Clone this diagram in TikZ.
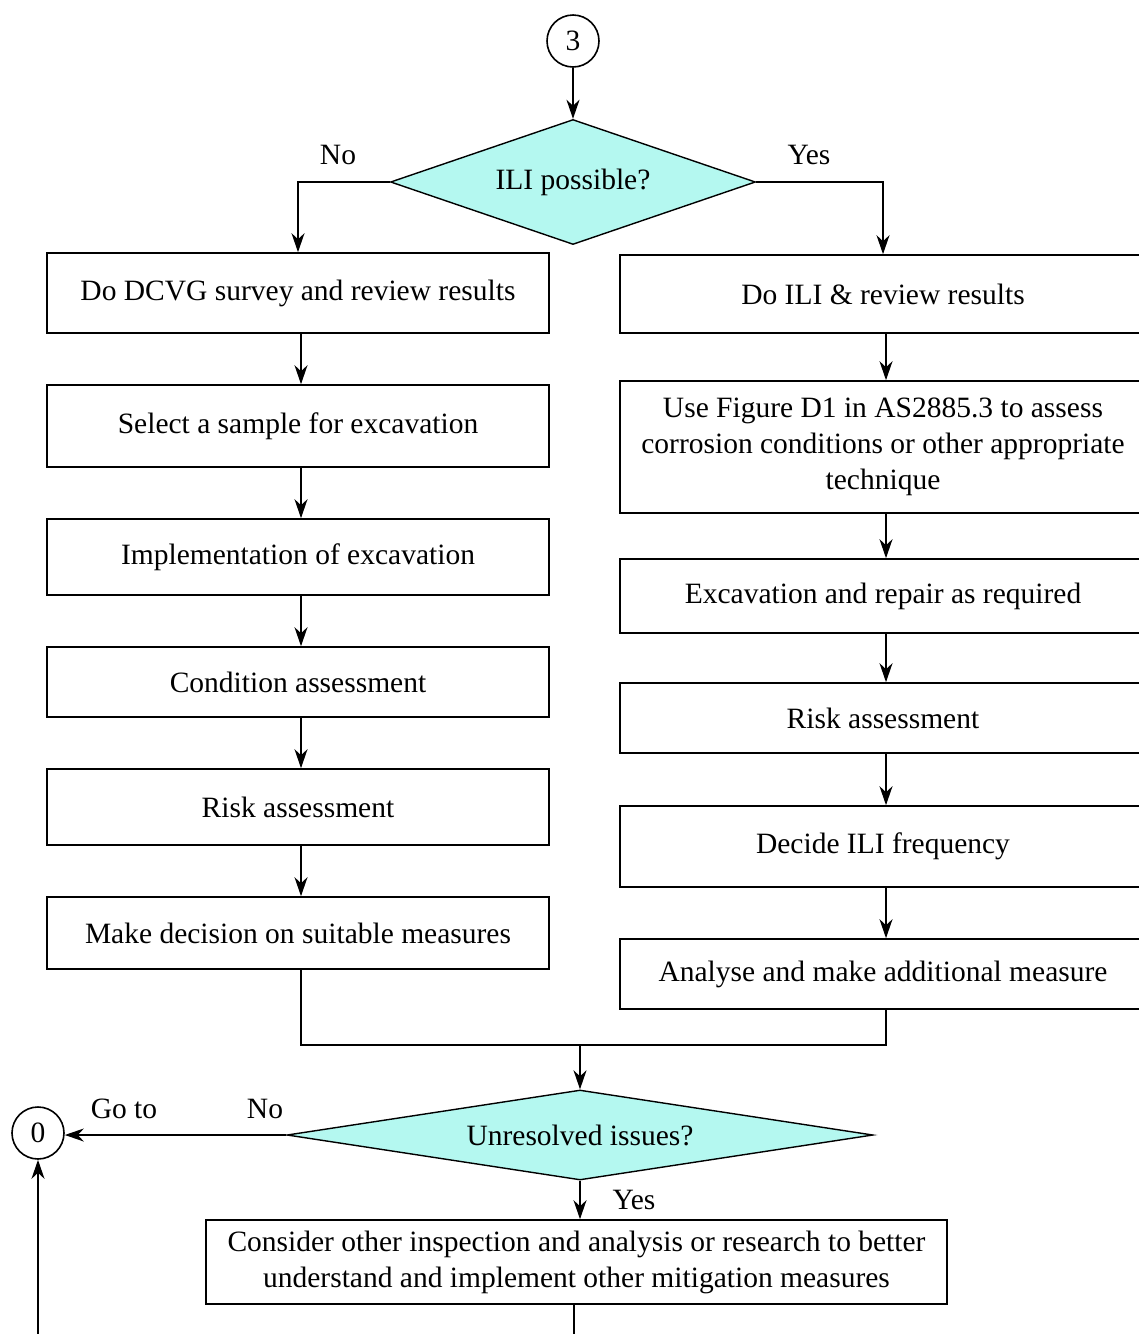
\documentclass[tikz,border=0pt]{standalone}
\usepackage{fontspec}
\setmainfont{Liberation Serif}
\usetikzlibrary{shapes.geometric,arrows.meta}
\definecolor{decfill}{RGB}{180,248,240}
\begin{document}
\begin{tikzpicture}[x=1pt,y=-1pt,
  every node/.style={font=\fontsize{29.5}{36}\selectfont},
  box/.style={draw,line width=1.6pt,inner sep=0pt,align=center},
  lbox/.style={box,minimum width=502pt},
  rbox/.style={box,minimum width=526pt},
  decision/.style={draw,line width=1.4pt,fill=decfill,diamond,inner sep=0pt},
  conn/.style={draw,line width=1.6pt,inner sep=0pt,circle,minimum size=52pt},
  line/.style={line width=1.6pt},
  arr/.style={line, -{Stealth[length=19pt,width=13pt,inset=6pt]}},
  lbl/.style={inner sep=0pt}]
\useasboundingbox (0,0) rectangle (1139,1334);
\clip (0,0) rectangle (1139,1334);

% connectors in and out
\node[conn] (c3) at (573,41) {3};
\node[conn] (c0) at (38,1133) {0};

% first decision
\node[decision,aspect=2.92,minimum width=365pt,minimum height=125pt] (d1) at (573,182) {ILI possible?};
\node[lbl] at (338,155) {No};
\node[lbl] at (809,155) {Yes};

% left branch
\node[lbox,minimum height=80pt] (l1) at (298,293) {Do DCVG survey and review results};
\node[lbox,minimum height=82pt] (l2) at (298,426) {Select a sample for excavation};
\node[lbox,minimum height=76pt] (l3) at (298,557) {Implementation of excavation};
\node[lbox,minimum height=70pt] (l4) at (298,682) {Condition assessment};
\node[lbox,minimum height=76pt] (l5) at (298,807) {Risk assessment};
\node[lbox,minimum height=72pt] (l6) at (298,933) {Make decision on suitable measures};

% right branch
\node[rbox,minimum height=78pt] (r1) at (883,294) {Do ILI \& review results};
\node[rbox,minimum height=132pt] (r2) at (883,447) {Use Figure D1 in AS2885.3 to assess\\corrosion conditions or other appropriate\\technique};
\node[rbox,minimum height=74pt] (r3) at (883,596) {Excavation and repair as required};
\node[rbox,minimum height=70pt] (r4) at (883,718) {Risk assessment};
\node[rbox,minimum height=81pt] (r5) at (883,846.5) {Decide ILI frequency};
\node[rbox,minimum height=70pt] (r6) at (883,974) {Analyse and make additional measure};

% second decision and follow-up
\node[decision,aspect=6.51,minimum width=586pt,minimum height=90pt] (d2) at (580,1135) {Unresolved issues?};
\node[lbl] at (265,1109) {No};
\node[lbl] at (124,1109) {Go to};
\node[lbl] at (634,1200) {Yes};
\node[box,minimum width=741pt,minimum height=84pt] (fin) at (576.5,1262) {Consider other inspection and analysis or research to better\\understand and implement other mitigation measures};

\coordinate (merge) at (580,1045);
\coordinate (outA) at (574,1340);
\coordinate (inB) at (38,1340);

% connectors
\draw[arr] (c3) -- (d1.north);
\draw[arr] (d1.west) -| (l1.north);
\draw[arr] (d1.east) -| (r1.north);
\foreach \a/\b in {l1/l2,l2/l3,l3/l4,l4/l5,l5/l6,r1/r2,r2/r3,r3/r4,r4/r5,r5/r6}
  \draw[arr] ([xshift=3pt]\a.south) -- ([xshift=3pt]\b.north);
\draw[line] ([xshift=3pt]l6.south) |- (merge) -| ([xshift=3pt]r6.south);
\draw[arr] (merge) -- (d2.north);
\draw[arr] (d2.west) -- (d2.west -| c0.east);
\draw[arr] (d2.south) -- (fin.north -| d2.south);
\draw[line] (fin.south -| outA) -- (outA);
\draw[arr] (inB) -- (c0.south);
\end{tikzpicture}
\end{document}
